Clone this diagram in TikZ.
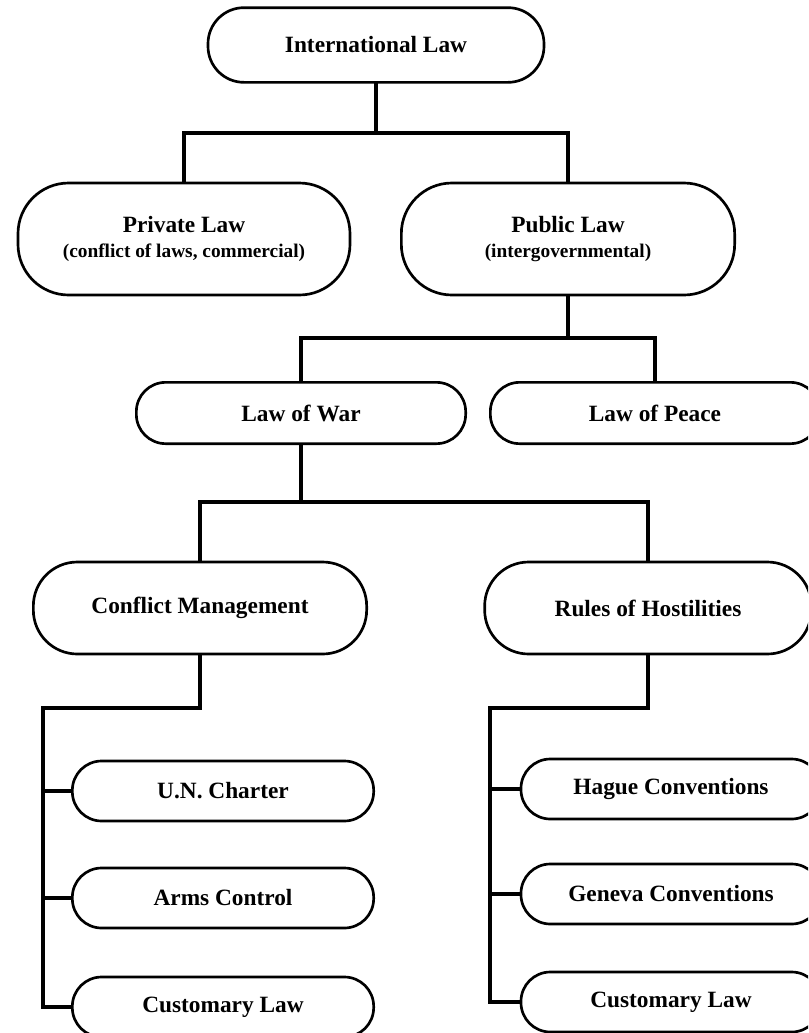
\documentclass[tikz,border=0pt]{standalone}
\usepackage{fontspec}
\setmainfont{Liberation Serif}
\begin{document}
\begin{tikzpicture}[x=0.75pt,y=-0.75pt,
  lawbox/.style={draw=black, line width=2pt, fill=white, rectangle, inner sep=0pt,
    align=center, font=\bfseries\fontsize{17.5}{20}\selectfont},
  sub/.style={font=\bfseries\fontsize{15}{18}\selectfont},
  wire/.style={line width=3.6pt, line join=miter, line cap=rect}]
\clip (0,0) rectangle (808,1033);
\fill[white] (0,0) rectangle (808,1033);
% nodes
\node[lawbox, minimum width=252pt, minimum height=56pt, rounded corners=27pt] (intl) at (376,45) {International Law};
\node[lawbox, minimum width=249pt, minimum height=84pt, rounded corners=38pt] (priv) at (184,239)
  {Private Law\\[-1pt]{\bfseries\fontsize{14.5}{17}\selectfont (conflict of laws, commercial)}};
\node[lawbox, minimum width=250pt, minimum height=84pt, rounded corners=38pt] (pub) at (568,239)
  {Public Law\\[-1pt]{\bfseries\fontsize{14.5}{17}\selectfont (intergovernmental)}};
\node[lawbox, minimum width=247pt, minimum height=46pt, rounded corners=22pt] (war) at (301,413) {Law of War};
\node[lawbox, minimum width=247pt, minimum height=46pt, rounded corners=22pt] (peace) at (655,413) {Law of Peace};
\node[lawbox, minimum width=250pt, minimum height=69pt, rounded corners=33pt] (cm) at (200,608) {Conflict Management};
\node[lawbox, minimum width=245pt, minimum height=69pt, rounded corners=33pt] (rh) at (648,608) {Rules of Hostilities};
\node[lawbox, minimum width=226pt, minimum height=45pt, rounded corners=22pt] (un) at (223,791) {U.N. Charter};
\node[lawbox, minimum width=226pt, minimum height=45pt, rounded corners=22pt] (arms) at (223,898) {Arms Control};
\node[lawbox, minimum width=226pt, minimum height=45pt, rounded corners=22pt] (custA) at (223,1007) {Customary Law};
\node[lawbox, minimum width=225pt, minimum height=45pt, rounded corners=22pt] (hague) at (671,789) {Hague Conventions};
\node[lawbox, minimum width=225pt, minimum height=45pt, rounded corners=22pt] (geneva) at (671,894) {Geneva Conventions};
\node[lawbox, minimum width=225pt, minimum height=45pt, rounded corners=22pt] (custB) at (671,1002) {Customary Law};
% junctions
\coordinate (j1) at (376,133);
\coordinate (j2) at (568,338);
\coordinate (j3) at (301,502);
\coordinate (l0) at (43,708);
\coordinate (r0) at (490,708);
% connectors
\draw[wire] (intl.south) -- (j1);
\draw[wire] (priv.north) |- (j1) -| (pub.north);
\draw[wire] (pub.south) -- (j2);
\draw[wire] (war.north) |- (j2) -| (peace.north);
\draw[wire] (war.south) -- (j3);
\draw[wire] (cm.north) |- (j3) -| (rh.north);
\draw[wire] (cm.south) |- (l0) |- (custA.west);
\draw[wire] (un.west) -- (un.west -| l0);
\draw[wire] (arms.west) -- (arms.west -| l0);
\draw[wire] (rh.south) |- (r0) |- (custB.west);
\draw[wire] (hague.west) -- (hague.west -| r0);
\draw[wire] (geneva.west) -- (geneva.west -| r0);
\end{tikzpicture}
\end{document}
